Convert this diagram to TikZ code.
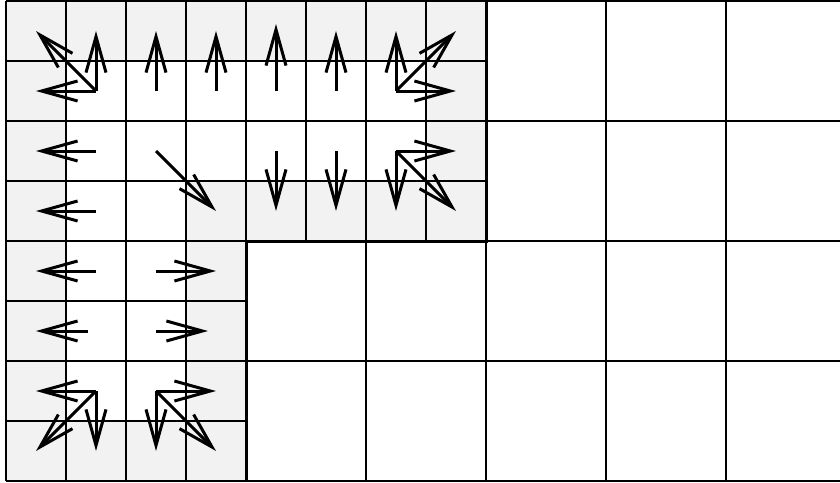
\documentclass[tikz,border=0pt]{standalone}
\usetikzlibrary{arrows.meta}
\definecolor{cellgray}{HTML}{F2F2F2}
\tikzset{
  gridline/.style={black, line width=1.1pt},
  thickline/.style={black, line width=3pt},
  vec/.style={black, line width=3pt, line cap=butt,
    -{Straight Barb[length=36pt, width=20pt, sharp, line width=3pt]}},
}
\begin{document}
\begin{tikzpicture}[x=1pt, y=-1pt]
\useasboundingbox (0,0) rectangle (840,482);
\begin{scope}
\clip (0,0) rectangle (840,482);
% shading of the L-shaped fine region
\fill[cellgray] (6,1) -- (486,1) -- (486,241) -- (246,241) -- (246,481) -- (6,481) -- cycle;
\fill[white] (66,61) -- (426,61) -- (426,181) -- (186,181) -- (186,421) -- (66,421) -- cycle;
% coarse grid
\foreach \x in {6,126,246,366,486,606,726}
  \draw[gridline] (\x,1) -- (\x,481);
\foreach \y in {1,121,241,361,481}
  \draw[gridline] (6,\y) -- (846,\y);
% fine grid
\foreach \x in {66,186,306,426}
  \draw[gridline] (\x,1) -- (\x,241);
\foreach \x in {66,186}
  \draw[gridline] (\x,241) -- (\x,481);
\foreach \y in {61,181}
  \draw[gridline] (6,\y) -- (486,\y);
\foreach \y in {301,421}
  \draw[gridline] (6,\y) -- (246,\y);
% thick boundary of the fine region
\draw[thickline] (486,1) -- (486,241) -- (246,241) -- (246,481);
\end{scope}
% cell centres
\foreach \i in {0,...,7}
  \foreach \j in {0,...,7}
    \coordinate (c-\i-\j) at (36+60*\i, 31+60*\j);
% vectors
\draw[vec] (c-1-1) -- (c-1-0);
\draw[vec] (c-1-1) -- (c-0-1);
\draw[vec] (c-1-1) -- (c-0-0);
\draw[vec] (c-2-1) -- (c-2-0);
\draw[vec] (c-3-1) -- (c-3-0);
\draw[vec] (c-4-1) -- ([yshift=7pt]c-4-0);
\draw[vec] (c-5-1) -- (c-5-0);
\draw[vec] (c-6-1) -- (c-6-0);
\draw[vec] (c-6-1) -- (c-7-1);
\draw[vec] (c-6-1) -- (c-7-0);
\draw[vec] (c-1-2) -- (c-0-2);
\draw[vec] (c-2-2) -- (c-3-3);
\draw[vec] (c-4-2) -- (c-4-3);
\draw[vec] (c-5-2) -- (c-5-3);
\draw[vec] (c-6-2) -- (c-6-3);
\draw[vec] (c-6-2) -- (c-7-2);
\draw[vec] (c-6-2) -- (c-7-3);
\draw[vec] (c-1-3) -- (c-0-3);
\draw[vec] (c-1-4) -- (c-0-4);
\draw[vec] (c-2-4) -- (c-3-4);
\draw[vec] ([xshift=-8pt]c-1-5) -- (c-0-5);
\draw[vec] (c-2-5) -- ([xshift=-8pt]c-3-5);
\draw[vec] (c-1-6) -- (c-0-6);
\draw[vec] (c-1-6) -- (c-1-7);
\draw[vec] (c-1-6) -- (c-0-7);
\draw[vec] (c-2-6) -- (c-3-6);
\draw[vec] (c-2-6) -- (c-2-7);
\draw[vec] (c-2-6) -- (c-3-7);
\end{tikzpicture}
\end{document}
